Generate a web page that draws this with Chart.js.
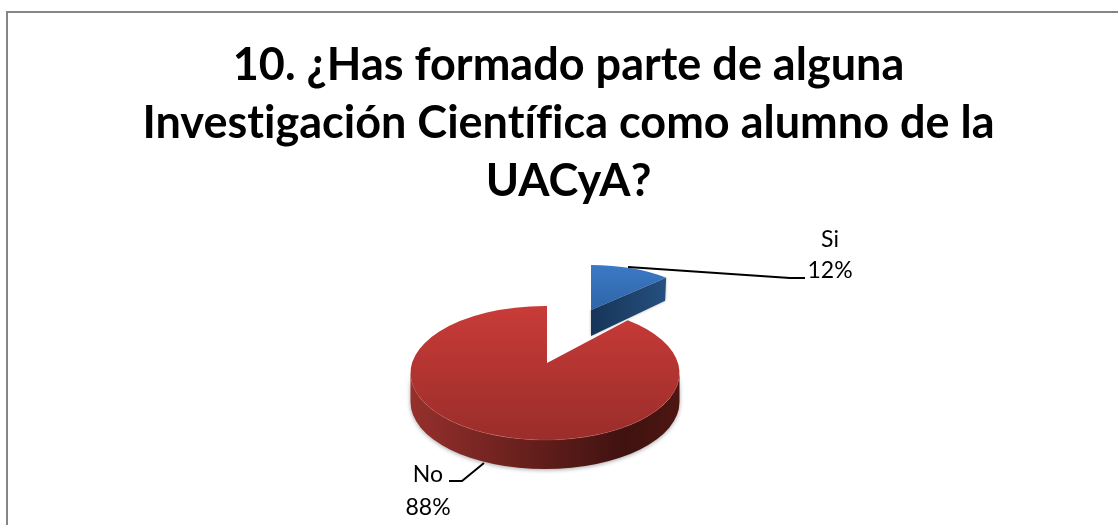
<!DOCTYPE html>
<html><head><meta charset="utf-8">
<style>html,body{margin:0;padding:0;background:#fff}#w{position:relative;width:1118px;height:525px;overflow:hidden}#f{position:absolute;left:6px;top:11px;width:1200px;height:600px;border:2px solid #868686;box-sizing:border-box}canvas{position:absolute;left:0;top:0}</style>
<script src="https://cdn.jsdelivr.net/npm/chart.js@4"></script>
</head><body><div id="w"><div id="f"></div><canvas id="c" width="1118" height="525"></canvas></div>
<script>
const titleLines = ['10. ¿Has formado parte de alguna','Investigación Científica como alumno de la','UACyA?'];
const categories = ['Si','No'];
const values = [12,88];
const colors = ['#3a76c0','#c23a37'];

const FONT = 'Lato, "Open Sans", sans-serif';
const geom = [
 {cx:589.5,cy:309,rx:109,ry:44,ax:591,ay:310,d:24,
  top:['#3b79c6','#2f64a6'],y0:265,y1:312,
  side:['#173458','#25507f']},
 {cx:545,cy:373,rx:134.5,ry:67,ax:547,ay:363,d:29,
  top:['#c93b38','#9a2d2a'],y0:306,y1:440,
  side:['#96302c','#3f1210']}
];
const labelPos = [
 {x:830,y1:247,y2:278,line:[[628,267],[790,278],[805,278]]},
 {x:428,y1:482,y2:515,line:[[484,463],[462,481],[449,481]]}
];
// Project a slice angle from the apex of the slice onto its rim ellipse.
function rim(g,angle){
 const dx=Math.cos(angle), dy=Math.sin(angle)*g.ry/g.rx;
 const px=(g.ax-g.cx)/g.rx, py=(g.ay-g.cy)/g.ry, qx=dx/g.rx, qy=dy/g.ry;
 const A=qx*qx+qy*qy, B=2*(px*qx+py*qy), C=px*px+py*py-1;
 const t=(-B+Math.sqrt(B*B-4*A*C))/(2*A);
 return Math.atan2(py+t*qy,px+t*qx);
}
const pie3d = {
 id:'pie3d',
 beforeDraw(chart){ chart.ctx.letterSpacing='0.01px'; },
 beforeDatasetDraw(chart,args){
  const ctx=chart.ctx, arcs=chart.getDatasetMeta(args.index).data;
  const total=values.reduce((a,b)=>a+b,0);
  // red first, then blue
  [1,0].forEach(i=>{
   const a=arcs[i].getProps(['startAngle','endAngle'],true), g=geom[i];
   const s=rim(g,a.startAngle), e=rim(g,a.endAngle);
   // side
   ctx.save();
   if(i===1){
    const sg=ctx.createLinearGradient(g.cx-g.rx,0,g.cx+g.rx,0);
    sg.addColorStop(0,'#96302c');sg.addColorStop(.2,'#802825');sg.addColorStop(.5,'#5f1d1a');sg.addColorStop(.8,'#3f1210');sg.addColorStop(1,'#4e1612');
    ctx.shadowColor='rgba(0,0,0,.35)';ctx.shadowBlur=4;ctx.shadowOffsetY=1;
    ctx.fillStyle=sg;
    ctx.beginPath();
    ctx.ellipse(g.cx,g.cy+g.d,g.rx,g.ry,0,0,Math.PI);
    ctx.lineTo(g.cx-g.rx,g.cy);
    ctx.ellipse(g.cx,g.cy,g.rx,g.ry,0,Math.PI,0,true);
    ctx.closePath();ctx.fill();
   }else{
    const ex=g.cx+g.rx*Math.cos(e), ey=g.cy+g.ry*Math.sin(e);
    const sg=ctx.createLinearGradient(g.ax,0,ex,0);
    sg.addColorStop(0,g.side[0]);sg.addColorStop(1,g.side[1]);
    ctx.shadowColor='rgba(0,0,0,.3)';ctx.shadowBlur=3;
    ctx.fillStyle=sg;
    ctx.beginPath();
    ctx.moveTo(g.ax,g.ay);ctx.lineTo(ex,ey);ctx.lineTo(ex-1,ey+g.d-1);ctx.lineTo(g.ax,g.ay+g.d+2);ctx.closePath();ctx.fill();
   }
   ctx.restore();
   // top face
   const tg=ctx.createLinearGradient(0,g.y0,0,g.y1);
   tg.addColorStop(0,g.top[0]);tg.addColorStop(1,g.top[1]);
   ctx.fillStyle=tg;
   ctx.beginPath();
   ctx.moveTo(g.ax,g.ay);
   ctx.ellipse(g.cx,g.cy,g.rx,g.ry,0,s,e);
   ctx.closePath();ctx.fill();
   if(i===1){
    ctx.strokeStyle='rgba(205,80,75,.35)';ctx.lineWidth=1;
    ctx.beginPath();ctx.ellipse(g.cx,g.cy,g.rx,g.ry,0,0.1,Math.PI-0.1);ctx.stroke();
   }
  });
  // leader lines and labels
  ctx.save();
  ctx.strokeStyle='#000';ctx.lineWidth=2;
  labelPos.forEach(p=>{ctx.beginPath();p.line.forEach((q,k)=>k?ctx.lineTo(q[0],q[1]):ctx.moveTo(q[0],q[1]));ctx.stroke();});
  ctx.fillStyle='#000';ctx.textAlign='center';ctx.textBaseline='alphabetic';ctx.font='23px '+FONT;
  categories.forEach((c,i)=>{
   const p=labelPos[i];
   ctx.fillText(c,p.x,p.y1);
   ctx.fillText(Math.round(values[i]/total*100)+'%',p.x,p.y2);
  });
  ctx.restore();
  return false;
 }
};
new Chart(document.getElementById('c'),{
 type:'pie',
 data:{labels:categories,datasets:[{data:values,backgroundColor:colors,borderWidth:0}]},
 options:{responsive:false,animation:false,
  layout:{padding:{top:36,left:19}},
  plugins:{legend:{display:false},tooltip:{enabled:false},
   title:{display:true,text:titleLines,color:'#000',font:{family:FONT,size:45,weight:'bold',lineHeight:1.29},padding:0}}
 },
 plugins:[pie3d]
});
</script></body></html>
